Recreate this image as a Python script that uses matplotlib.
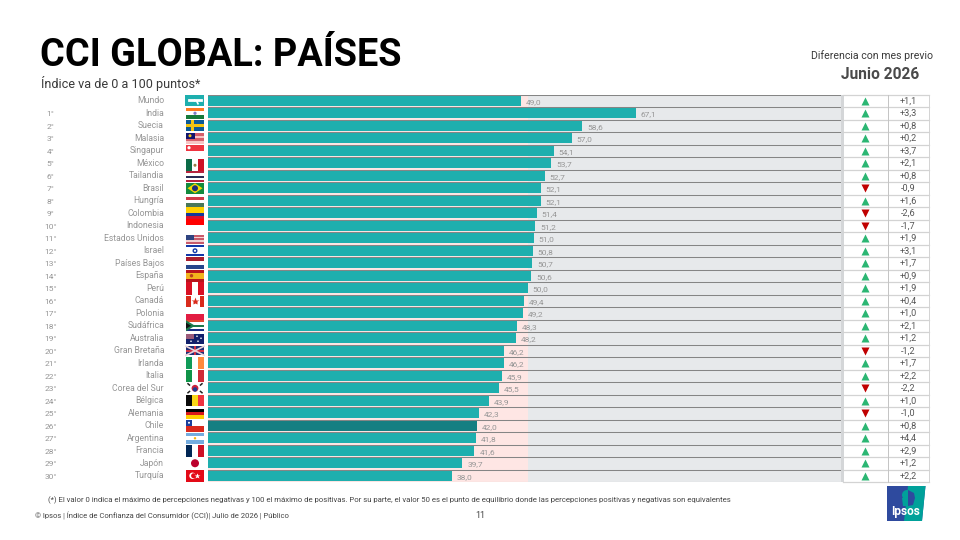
import matplotlib
matplotlib.use('Agg')
import matplotlib.pyplot as plt
from matplotlib.patches import Rectangle, Polygon, Circle

plt.rcParams['font.family'] = ['Roboto', 'DejaVu Sans']

countries = ['Mundo','India','Suecia','Malasia','Singapur','México','Tailandia','Brasil','Hungría','Colombia',
             'Indonesia','Estados Unidos','Israel','Países Bajos','España','Perú','Canadá','Polonia','Sudáfrica',
             'Australia','Gran Bretaña','Irlanda','Italia','Corea del Sur','Bélgica','Alemania','Chile','Argentina',
             'Francia','Japón','Turquía']
values = [49.0,67.1,58.6,57.0,54.1,53.7,52.7,52.1,52.1,51.4,51.2,51.0,50.8,50.7,50.6,50.0,49.4,49.2,48.3,48.2,
          46.2,46.2,45.9,45.5,43.9,42.3,42.0,41.8,41.6,39.7,38.0]
changes = [1.1,3.3,0.8,0.2,3.7,2.1,0.8,-0.9,1.6,-2.6,-1.7,1.9,3.1,1.7,0.9,1.9,0.4,1.0,2.1,1.2,-1.2,1.7,2.2,-2.2,
           1.0,-1.0,0.8,4.4,2.9,1.2,2.2]
highlight = 'Chile'

TEAL, DARK, GREY, PINK = '#1EAFAE', '#157F82', '#E7E9EB', '#FEE6E4'
LINE, TXT = '#858585', '#969696'
GREEN, RED = '#2BB673', '#C00000'

fig = plt.figure(figsize=(9.6, 5.4), dpi=100)
ov = fig.add_axes([0, 0, 1, 1], zorder=3)
ov.set_xlim(0, 960); ov.set_ylim(540, 0); ov.axis('off'); ov.patch.set_alpha(0)

x0, x1, top, rh = 208, 841, 94.5, 12.5
n = len(countries)
ax = fig.add_axes([x0/960, 1-(top+n*rh)/540, (x1-x0)/960, n*rh/540], zorder=1)
xmin, xmax = -0.5, 99.5
ax.set_xlim(xmin, xmax); ax.set_ylim(n-0.5, -0.5); ax.axis('off')
ax.add_patch(Rectangle((xmin, -0.5), xmax-xmin, n, color=GREY, lw=0, zorder=0))
ax.add_patch(Rectangle((xmin, -0.5), 50-xmin, n, color=PINK, lw=0, zorder=0.5))
ax.barh(range(n), [v-xmin for v in values], left=xmin, height=0.8,
        color=[DARK if c == highlight else TEAL for c in countries], lw=0, zorder=2)
for i in range(n+1):
    ax.axhline(i-0.5, color=LINE, lw=0.75, zorder=3)
for i, v in enumerate(values):
    ax.annotate(f'{v:.1f}'.replace('.', ','), (v, i), xytext=(3.5, -0.8), textcoords='offset points',
                va='center', ha='left', fontsize=6, color=TXT)

def yc(i):
    return top + rh*(i+0.5)

# Ranks, names
for i, c in enumerate(countries):
    ov.text(164, yc(i), c, ha='right', va='center', fontsize=6.2, color=TXT)
    if i > 0:
        ov.text(50.5, yc(i)+1, f'{i}°', ha='center', va='center', fontsize=6, color=TXT)

# Right-hand table
ov.add_patch(Rectangle((841, top), 2.5, n*rh, color='#D4D6D8', lw=0))
for i in range(n+1):
    ov.plot([843, 929], [top+i*rh]*2, color='#D3D3D3', lw=0.9)
ov.plot([887.5, 887.5], [top, top+n*rh], color='#C4C4C4', lw=0.7)
ov.plot([929, 929], [top, top+n*rh], color='#D3D3D3', lw=0.7)
for i, d in enumerate(changes):
    if d >= 0:
        ov.plot(864.5, yc(i), marker='^', ms=5.2, mfc=GREEN, mec='none')
    else:
        ov.plot(864.5, yc(i), marker='v', ms=5.2, mfc=RED, mec='none')
    ov.text(908, yc(i)+0.3, f'{d:+.1f}'.replace('.', ','), ha='center', va='center', fontsize=6.6, color='#555555')

# Flags (flag box in pixels)
fx, fw = 186, 18
def stripes_h(i, cols, fh=11, dy=0):
    y = yc(i)-fh/2+dy
    for k, col in enumerate(cols):
        ov.add_patch(Rectangle((fx, y+k*fh/len(cols)), fw, fh/len(cols), color=col, lw=0))
def stripes_v(i, cols, fh=12, dy=0):
    y = yc(i)-fh/2+dy
    for k, col in enumerate(cols):
        ov.add_patch(Rectangle((fx+k*fw/len(cols), y), fw/len(cols), fh, color=col, lw=0))
def box(x, y, w, h, col):
    ov.add_patch(Rectangle((x, y), w, h, color=col, lw=0))
idx = {c: i for i, c in enumerate(countries)}
i = idx['Mundo']; box(fx-1, yc(i)-5.5, fw+1, 11, TEAL)
ov.plot([fx+3, fx+7], [yc(i)-1, yc(i)-1], color='white', lw=2)
ov.plot([fx+9, fx+15], [yc(i)-1, yc(i)-1], color='white', lw=2)
ov.plot([fx+11, fx+12], [yc(i)+1, yc(i)+3], color='white', lw=1.2)
stripes_h(idx['India'], ['#FF7A1F', '#FFFFFF', '#167A3A']); ov.add_patch(Circle((fx+9, yc(1)), 1.6, color='#7C7CC8', lw=0))
i = idx['Suecia']; stripes_h(i, ['#0C5A96']); box(fx, yc(i)-1.3, fw, 2.6, '#F2C40F'); box(fx+5, yc(i)-5.5, 3, 11, '#F2C40F')
i = idx['Malasia']; stripes_h(i, ['#D65F6A', '#F7C4C4', '#D65F6A', '#F7C4C4']); box(fx, yc(i)-5.5, 9, 6, '#12156E'); ov.add_patch(Circle((fx+4, yc(i)-2.5), 1.5, color='#F5C518', lw=0))
i = idx['Singapur']; stripes_h(i, ['#EF3340', '#FFFFFF']); ov.add_patch(Circle((fx+3, yc(i)-3), 1.6, color='white', lw=0))
stripes_v(idx['México'], ['#0B6B47', '#FFFFFF', '#CE1126'], dy=2); ov.add_patch(Circle((fx+9, yc(idx['México'])+2), 1.5, color='#9B7B45', lw=0))
stripes_h(idx['Tailandia'], ['#B5243F', '#FFFFFF', '#2A2D55', '#FFFFFF', '#B5243F'], dy=1)
i = idx['Brasil']; stripes_h(i, ['#128A3E']); ov.add_patch(Polygon([(fx+1.5, yc(i)), (fx+9, yc(i)-5), (fx+16.5, yc(i)), (fx+9, yc(i)+5)], color='#F4D800', lw=0)); ov.add_patch(Circle((fx+9, yc(i)), 3, color='#1B2F78', lw=0))
stripes_h(idx['Hungría'], ['#CE3B4A', '#FFFFFF', '#49785A'], fh=10, dy=1)
i = idx['Colombia']; y = yc(i)-6
box(fx, y, fw, 6, '#FFD000'); box(fx, y+6, fw, 3, '#14389A'); box(fx, y+9, fw, 3, '#D8102C')
stripes_h(idx['Indonesia'], ['#FF0000', '#FFFFFF'], fh=11, dy=-1)
i = idx['Estados Unidos']; stripes_h(i, ['#C85A6A', '#F4D2D2', '#C85A6A', '#F4D2D2', '#C85A6A'], fh=9, dy=1); box(fx, yc(i)-3.5, 8, 5, '#2F4480')
i = idx['Israel']; stripes_h(i, ['#1338A8', '#FFFFFF', '#FFFFFF', '#FFFFFF', '#1338A8'], fh=11); ov.add_patch(Circle((fx+9, yc(i)), 1.8, fc='none', ec='#1338A8', lw=1))
stripes_h(idx['Países Bajos'], ['#AA1C2C', '#FFFFFF', '#26458C'], fh=12)
i = idx['España']; y = yc(i)-6
box(fx, y, fw, 3, '#B8141C'); box(fx, y+3, fw, 6, '#F2B41D'); box(fx, y+9, fw, 3, '#B8141C'); ov.add_patch(Circle((fx+5.5, yc(i)), 1.7, color='#B8401C', lw=0))
stripes_v(idx['Perú'], ['#D91023', '#FFFFFF', '#D91023'], fh=13)
i = idx['Canadá']; stripes_v(i, ['#D92B1C', '#FFFFFF', '#FFFFFF', '#D92B1C'], fh=11, dy=0.5); ov.plot(fx+9, yc(i)+0.5, marker='*', ms=6, color='#D92B1C', mec='none')
stripes_h(idx['Polonia'], ['#FFFFFF', '#E21D42'], fh=12, dy=0.5)
i = idx['Sudáfrica']; stripes_h(i, ['#E24A30', '#FFFFFF', '#1C7A4A', '#FFFFFF', '#1A2F86'], fh=11)
ov.add_patch(Polygon([(fx, yc(i)-5.5), (fx+9, yc(i)), (fx, yc(i)+5.5)], color='#1C7A4A', lw=0)); ov.add_patch(Polygon([(fx, yc(i)-3), (fx+5, yc(i)), (fx, yc(i)+3)], color='#111111', lw=0))
i = idx['Australia']; stripes_h(i, ['#12206B'], fh=10, dy=0.5); box(fx, yc(i)-4.5, 8, 5, '#9A5A7A')
for px, py in [(11, -2), (15, 0), (12, 3), (5, 3)]:
    ov.add_patch(Circle((fx+px, yc(i)+py), 0.8, color='white', lw=0))
i = idx['Gran Bretaña']; stripes_h(i, ['#1F2F78'], fh=9)
ov.plot([fx, fx+fw], [yc(i)-4.5, yc(i)+4.5], color='#EBD3D8', lw=1.2); ov.plot([fx, fx+fw], [yc(i)+4.5, yc(i)-4.5], color='#EBD3D8', lw=1.2)
box(fx, yc(i)-1, fw, 2, '#CF2E43'); box(fx+8, yc(i)-4.5, 2, 9, '#CF2E43')
stripes_v(idx['Irlanda'], ['#0F9B58', '#FFFFFF', '#FF8A3D'], fh=12)
stripes_v(idx['Italia'], ['#0F9348', '#FFFFFF', '#CE2B37'], fh=12)
i = idx['Corea del Sur']; ov.add_patch(Circle((fx+9, yc(i)), 3.4, color='#C8243C', lw=0)); ov.add_patch(Circle((fx+9, yc(i)+1.2), 2.2, color='#1B3E92', lw=0))
for sx, sy in [(-1, -1), (1, -1), (-1, 1), (1, 1)]:
    ov.plot([fx+9+sx*5.5, fx+9+sx*7], [yc(i)+sy*3.2, yc(i)+sy*4.5], color='#222222', lw=1.1)
stripes_v(idx['Bélgica'], ['#0A0A0A', '#F9D616', '#EF3340'], fh=11)
stripes_h(idx['Alemania'], ['#000000', '#D8181C', '#FFCE00'], fh=10, dy=0.5)
i = idx['Chile']; y = yc(i)-6
box(fx, y+6, fw, 6, '#DA291C'); box(fx, y, 6, 6, '#1A3E9C'); ov.add_patch(Circle((fx+3, y+3), 1, color='white', lw=0))
i = idx['Argentina']; stripes_h(i, ['#74ACDF', '#FFFFFF', '#74ACDF'], fh=11); ov.add_patch(Circle((fx+9, yc(i)), 1.2, color='#F6B40E', lw=0))
stripes_v(idx['Francia'], ['#002654', '#FFFFFF', '#CE1126'], fh=12)
i = idx['Japón']; ov.add_patch(Circle((fx+9, yc(i)), 4, color='#BC002D', lw=0))
i = idx['Turquía']; stripes_h(i, ['#E30A17'], fh=12)
ov.add_patch(Circle((fx+6.5, yc(i)), 3.2, color='white', lw=0)); ov.add_patch(Circle((fx+7.6, yc(i)), 2.5, color='#E30A17', lw=0))
ov.plot(fx+11, yc(i), marker='*', ms=4, color='white', mec='none')

# Titles
ov.text(39.5, 56, 'CCI GLOBAL: PAÍSES', fontsize=27.3, fontweight='bold', color='#000000', va='center', ha='left')
ov.text(41, 83.5, 'Índice va de 0 a 100 puntos*', fontsize=9.1, color='#3A3A3A', va='center', ha='left')
ov.text(872, 55.5, 'Diferencia con mes previo', fontsize=7.6, color='#3A3A3A', ha='center', va='center')
ov.text(880, 74.5, 'Junio 2026', fontsize=11.2, fontweight='bold', color='#4A4A4A', ha='center', va='center')

# Footer
ov.text(48, 500, '(*) El valor 0 indica el máximo de percepciones negativas y 100 el máximo de positivas. Por su parte, el valor 50 es el punto de equilibrio donde las percepciones positivas y negativas son equivalentes',
        fontsize=5.55, color='#444444', va='center', ha='left')
ov.text(35, 516, '© Ipsos | Índice de Confianza del Consumidor (CCI)| Julio de 2026 | Público',
        fontsize=5.5, color='#444444', va='center', ha='left')
ov.text(480, 515.5, '11', fontsize=6.5, color='#444444', ha='center', va='center')

# Logo
ov.add_patch(Polygon([(887, 486), (925.5, 486), (922, 521), (887, 521)], color='#2E4A9E', lw=0))
ov.add_patch(Polygon([(908, 486), (925.5, 486), (922, 521), (904, 521)], color='#00A19A', lw=0))
ov.add_patch(Circle((907, 495), 5, color='#00A19A', lw=0))
ov.add_patch(Polygon([(902, 498), (908, 498), (908, 506), (903, 506)], color='#00A19A', lw=0))
ov.add_patch(Polygon([(908, 490), (914, 493), (915, 498), (913, 505), (908, 506)], color='#2E4A9E', lw=0))
ov.text(905.5, 512, 'Ipsos', color='white', fontsize=8.5, fontweight='bold', ha='center', va='center')

fig.savefig('out.png', dpi=100)
